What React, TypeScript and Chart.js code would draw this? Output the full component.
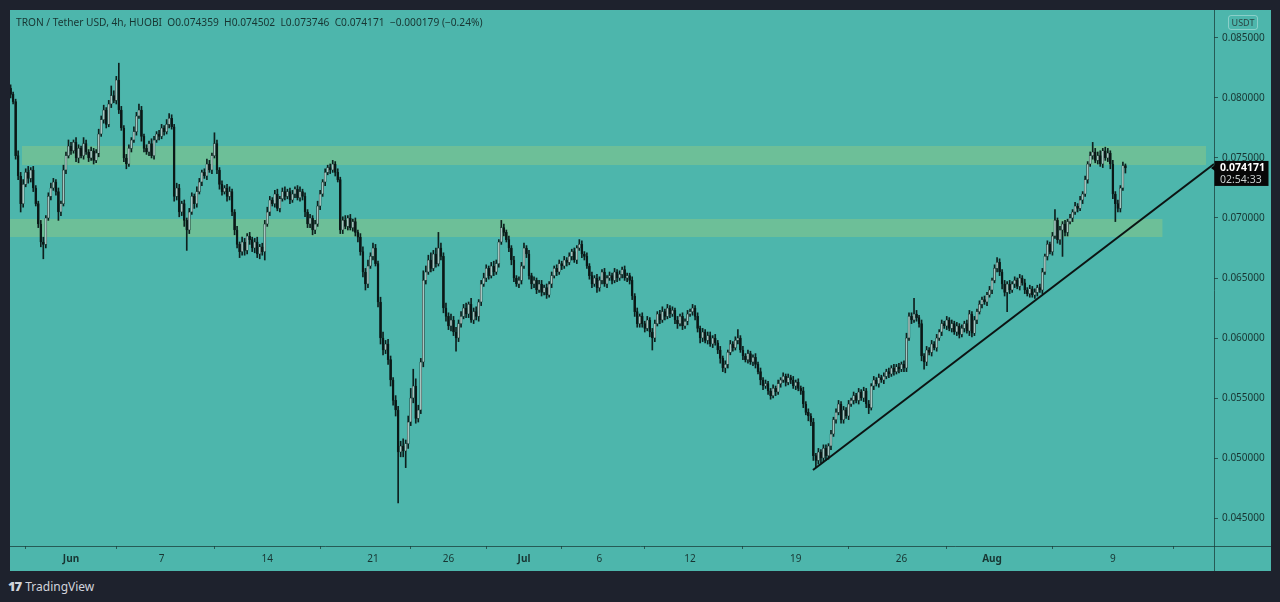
import React, { useEffect, useRef } from "react";
import { Chart, registerables } from "chart.js";

Chart.register(...registerables);

// ---- data (prices in units of 0.0001 USDT, 4h candles, time in days from Jun 1 00:00) ----
const PRICE_UNIT = 0.0001;
const START_DAY = -4; // May 28 00:00
const CANDLES_PER_DAY = 6;
const FIRST_OPEN = 808;

const CLOSES = [
  803, 797, 752, 735, 712, 728, 738, 733, 740, 725, 712, 695,
  680, 678, 700, 718, 725, 730, 722, 705, 712, 740, 752, 760,
  756, 763, 750, 758, 752, 762, 755, 750, 756, 748, 754, 770,
  782, 790, 778, 795, 802, 798, 815, 790, 775, 750, 745, 758,
  765, 772, 785, 790, 768, 758, 755, 762, 752, 765, 770, 768,
  775, 772, 778, 783, 776, 718, 725, 705, 712, 698, 690, 705,
  718, 712, 722, 730, 738, 735, 745, 740, 752, 762, 740, 728,
  722, 725, 718, 722, 705, 690, 678, 672, 680, 673, 685, 682,
  675, 680, 670, 676, 672, 695, 705, 715, 712, 720, 708, 716,
  722, 718, 722, 715, 720, 724, 717, 722, 718, 705, 695, 700,
  690, 695, 710, 720, 730, 738, 742, 740, 745, 738, 732, 690,
  698, 693, 700, 692, 697, 688, 684, 672, 655, 645, 660, 668,
  675, 662, 630, 600, 590, 595, 582, 565, 548, 540, 505, 510,
  506, 512, 530, 550, 560, 533, 540, 580, 648, 655, 665, 658,
  670, 662, 675, 668, 625, 618, 610, 615, 605, 600, 612, 618,
  625, 620, 628, 615, 622, 618, 630, 645, 650, 658, 652, 660,
  655, 662, 680, 692, 688, 682, 675, 665, 650, 645, 648, 660,
  675, 670, 652, 645, 648, 640, 645, 638, 642, 636, 645, 652,
  658, 655, 662, 660, 665, 663, 668, 672, 665, 675, 678, 670,
  668, 660, 652, 645, 650, 642, 648, 655, 645, 650, 652, 648,
  655, 650, 653, 657, 650, 652, 648, 635, 622, 612, 618, 612,
  608, 615, 605, 600, 612, 620, 615, 622, 618, 625, 620, 623,
  615, 612, 618, 610, 614, 620, 622, 625, 618, 608, 600, 605,
  598, 602, 595, 600, 596, 590, 583, 575, 578, 588, 595, 592,
  598, 600, 590, 585, 582, 587, 580, 584, 578, 572, 565, 560,
  562, 556, 552, 558, 555, 562, 565, 568, 563, 567, 565, 560,
  563, 558, 556, 545, 538, 535, 530, 502, 498, 505, 500, 508,
  502, 510, 520, 532, 538, 545, 532, 540, 535, 545, 548, 552,
  548, 555, 550, 556, 545, 542, 560, 565, 562, 567, 565, 568,
  572, 570, 575, 572, 576, 574, 578, 575, 600, 618, 615, 620,
  617, 612, 585, 580, 590, 588, 595, 592, 600, 605, 612, 610,
  615, 608, 612, 605, 610, 603, 608, 612, 606, 620, 604, 615,
  622, 628, 632, 630, 636, 640, 648, 658, 663, 655, 645, 638,
  645, 640, 645, 648, 643, 650, 646, 640, 637, 641, 636, 638,
  642, 640, 655, 668, 678, 672, 685, 698, 682, 690, 695, 688,
  697, 700, 705, 710, 708, 715, 720, 732, 745, 752, 755, 748,
  752, 745, 756, 750, 754, 745, 720, 712, 708, 725, 743.59, 741.71,
];

const UPPER_WICKS = [
  3, 2, 2, 4, 3, 4, 3, 5, 2, 3, 2, 2,
  3, 4, 2, 3, 4, 3, 2, 3, 2, 4, 3, 5,
  3, 2, 4, 3, 2, 5, 3, 2, 3, 2, 3, 4,
  3, 4, 2, 3, 8, 4, 3, 14, 3, 2, 3, 3,
  2, 4, 3, 5, 3, 2, 3, 2, 4, 3, 2, 3,
  3, 2, 4, 4, 3, 2, 4, 3, 2, 3, 2, 3,
  3, 2, 4, 3, 2, 3, 4, 3, 2, 9, 3, 2,
  3, 2, 3, 4, 2, 2, 3, 2, 4, 3, 2, 3,
  2, 3, 4, 2, 3, 3, 4, 3, 2, 3, 4, 2,
  3, 4, 2, 3, 3, 2, 3, 4, 2, 3, 2, 3,
  2, 3, 4, 3, 2, 3, 2, 3, 3, 2, 3, 2,
  3, 4, 2, 3, 2, 3, 2, 3, 4, 3, 5, 3,
  4, 3, 2, 4, 5, 3, 4, 3, 2, 4, 3, 4,
  6, 3, 5, 8, 14, 6, 4, 3, 8, 5, 4, 6,
  3, 5, 13, 4, 3, 4, 3, 5, 3, 4, 3, 4,
  3, 4, 2, 5, 3, 4, 2, 3, 4, 3, 2, 3,
  4, 3, 2, 6, 3, 2, 3, 2, 3, 2, 3, 3,
  4, 2, 3, 2, 3, 2, 3, 3, 2, 3, 2, 3,
  2, 3, 3, 2, 3, 2, 3, 2, 3, 2, 4, 3,
  2, 3, 2, 3, 2, 3, 3, 2, 3, 2, 3, 2,
  3, 2, 3, 2, 3, 2, 2, 3, 2, 3, 2, 3,
  2, 3, 2, 3, 3, 2, 3, 4, 2, 3, 2, 3,
  2, 3, 2, 3, 2, 3, 2, 3, 2, 3, 2, 3,
  2, 3, 3, 2, 3, 2, 3, 2, 3, 2, 3, 2,
  3, 7, 2, 3, 2, 3, 2, 2, 3, 2, 3, 2,
  3, 2, 2, 3, 2, 3, 2, 3, 2, 3, 2, 3,
  2, 3, 2, 3, 2, 3, 2, 3, 2, 3, 2, 3,
  3, 2, 3, 2, 3, 3, 2, 3, 2, 3, 2, 3,
  2, 3, 2, 3, 2, 3, 2, 3, 2, 3, 2, 3,
  2, 3, 2, 3, 2, 3, 2, 3, 4, 3, 3, 13,
  3, 2, 3, 2, 3, 2, 3, 2, 3, 2, 3, 2,
  3, 2, 3, 2, 3, 2, 3, 2, 3, 3, 2, 3,
  2, 3, 2, 3, 2, 3, 2, 3, 4, 3, 2, 3,
  2, 3, 2, 3, 2, 3, 2, 3, 2, 3, 2, 3,
  2, 3, 3, 2, 3, 2, 3, 9, 2, 3, 2, 3,
  2, 3, 2, 3, 2, 3, 2, 3, 2, 3, 8, 3,
  3, 4, 2, 3, 4, 2, 3, 2, 3, 2, 3, 1.43,
];

const LOWER_WICKS = [
  3, 2, 3, 3, 7, 3, 2, 4, 3, 3, 2, 3,
  4, 12, 3, 2, 3, 2, 3, 7, 3, 2, 3, 2,
  3, 2, 3, 4, 2, 3, 2, 3, 2, 3, 2, 3,
  2, 3, 3, 2, 3, 2, 3, 3, 2, 3, 4, 2,
  3, 2, 3, 2, 4, 3, 2, 3, 2, 3, 2, 3,
  2, 3, 2, 3, 2, 4, 3, 4, 3, 5, 17, 3,
  2, 4, 3, 2, 3, 2, 3, 2, 3, 2, 3, 4,
  3, 2, 4, 3, 3, 4, 3, 5, 3, 4, 3, 4,
  3, 4, 3, 4, 3, 7, 2, 3, 2, 3, 2, 3,
  2, 3, 2, 3, 2, 3, 2, 3, 3, 4, 3, 3,
  4, 3, 2, 3, 2, 3, 2, 3, 2, 3, 2, 3,
  3, 2, 3, 2, 3, 3, 4, 3, 4, 5, 3, 2,
  3, 2, 4, 5, 4, 3, 4, 5, 4, 5, 42.5, 4,
  5, 14, 4, 3, 4, 4, 3, 3, 4, 3, 2, 3,
  2, 3, 2, 3, 4, 4, 3, 4, 3, 11, 3, 3,
  2, 3, 3, 2, 3, 3, 4, 3, 2, 3, 3, 2,
  3, 2, 3, 2, 3, 2, 3, 4, 3, 2, 3, 3,
  2, 3, 3, 4, 3, 3, 2, 3, 2, 3, 2, 3,
  2, 3, 2, 3, 2, 3, 2, 3, 2, 3, 2, 3,
  3, 2, 3, 3, 2, 4, 3, 3, 2, 3, 2, 3,
  2, 3, 2, 3, 2, 3, 3, 3, 4, 3, 3, 3,
  3, 2, 4, 10, 3, 2, 3, 2, 3, 2, 3, 2,
  3, 4, 2, 3, 2, 3, 2, 3, 3, 3, 4, 3,
  2, 3, 2, 3, 2, 3, 4, 3, 4, 3, 2, 3,
  2, 3, 2, 3, 2, 3, 2, 3, 3, 2, 4, 3,
  2, 3, 3, 2, 3, 2, 3, 2, 3, 2, 3, 2,
  3, 2, 3, 3, 2, 4, 3, 4, 6, 3, 4, 3,
  4, 3, 3, 2, 3, 2, 3, 3, 2, 3, 2, 3,
  2, 3, 2, 3, 3, 5, 2, 3, 2, 3, 2, 3,
  2, 3, 2, 3, 2, 3, 2, 3, 3, 2, 3, 2,
  3, 3, 4, 6, 3, 2, 3, 2, 3, 2, 3, 2,
  3, 2, 3, 2, 3, 3, 2, 3, 2, 4, 3, 2,
  3, 2, 3, 2, 3, 2, 3, 2, 3, 3, 4, 3,
  16, 3, 2, 3, 2, 3, 2, 3, 2, 3, 2, 3,
  3, 2, 3, 2, 3, 2, 3, 2, 3, 4, 22, 3,
  3, 2, 3, 2, 3, 2, 3, 2, 3, 2, 3, 2,
  3, 2, 3, 2, 3, 4, 4, 15, 3, 3, 2, 4.25,
];

// support / resistance zones (days, price)
const ZONE_STARTS = [-3.25, -4.2];
const ZONE_ENDS = [75.17, 72.3];
const ZONE_TOPS = [0.076, 0.06992];
const ZONE_BOTTOMS = [0.07442, 0.06842];

// trend line (days, price)
const TREND_X = [49.14, 75.7];
const TREND_Y = [0.049, 0.0745];

// axes
const X_MIN = -4.04;
const X_MAX = 75.7;
const Y_MIN = 0.04267;
const Y_MAX = 0.08733;
const X_TICK_DAYS = [0, 6, 13, 20, 25, 30, 35, 41, 48, 55, 61, 69];
const X_TICK_LABELS = ["Jun", "7", "14", "21", "26", "Jul", "6", "12", "19", "26", "Aug", "9"];
const MONTH_LABELS = ["Jun", "Jul", "Aug"];
const Y_TICKS = [0.045, 0.05, 0.055, 0.06, 0.065, 0.07, 0.075, 0.08, 0.085];

const LAST_PRICE = 0.074171;
const LAST_PRICE_TEXT = "0.074171";
const COUNTDOWN_TEXT = "02:54:33";
const TITLE_TEXT =
  "TRON / Tether USD, 4h, HUOBI  O0.074359  H0.074502  L0.073746  C0.074171  \u22120.000179 (\u22120.24%)";

// ---- styles ----
const FONT = "'Noto Sans', 'Open Sans', 'DejaVu Sans', sans-serif";
const FRAME_BG = "#1e222d";
const PANEL_BG = "#4db6ac";
const ZONE_COLOR = "#6dbf98";
const TEXT_COLOR = "#183532";
const AXIS_COLOR = "rgba(25,60,58,0.75)";
const UP_BODY = "#a7c6c1";
const DOWN_BODY = "#0b1716";
const WICK_COLOR = "#0e201e";

const PANEL_W = 1261;
const PANEL_H = 561;

export default function App() {
  const canvasRef = useRef<HTMLCanvasElement | null>(null);

  useEffect(() => {
    const canvas = canvasRef.current;
    if (!canvas) return;

    const opens = CLOSES.map((c, i) => (i === 0 ? FIRST_OPEN : CLOSES[i - 1]));
    const times = CLOSES.map((_, i) => START_DAY + i / CANDLES_PER_DAY);
    const highs = CLOSES.map((c, i) => Math.max(c, opens[i]) + UPPER_WICKS[i]);
    const lows = CLOSES.map((c, i) => Math.min(c, opens[i]) - LOWER_WICKS[i]);

    const wickData = times.map((t, i) => ({ x: t, y: [lows[i] * PRICE_UNIT, highs[i] * PRICE_UNIT] }));
    const bodyData = times.map((t, i) => ({ x: t, y: [opens[i] * PRICE_UNIT, CLOSES[i] * PRICE_UNIT] }));
    const bodyColors = CLOSES.map((c, i) => (c >= opens[i] ? UP_BODY : DOWN_BODY));

    const zoneDatasets: any[] = [];
    ZONE_TOPS.forEach((top, z) => {
      zoneDatasets.push({
        type: "line",
        data: [
          { x: ZONE_STARTS[z], y: top },
          { x: ZONE_ENDS[z], y: top },
        ],
        borderWidth: 0,
        pointRadius: 0,
        fill: false,
        order: 10,
      });
      zoneDatasets.push({
        type: "line",
        data: [
          { x: ZONE_STARTS[z], y: ZONE_BOTTOMS[z] },
          { x: ZONE_ENDS[z], y: ZONE_BOTTOMS[z] },
        ],
        borderWidth: 0,
        pointRadius: 0,
        fill: "-1",
        backgroundColor: ZONE_COLOR,
        order: 10,
      });
    });

    const overlayPlugin = {
      id: "overlay",
      afterDraw(chart: any) {
        const { ctx, chartArea, scales } = chart;
        ctx.save();
        ctx.strokeStyle = AXIS_COLOR;
        ctx.lineWidth = 1;
        ctx.beginPath();
        const rx = Math.round(chartArea.right) + 0.5;
        const by = Math.round(chartArea.bottom) + 0.5;
        ctx.moveTo(rx, 0);
        ctx.lineTo(rx, chart.height);
        ctx.moveTo(0, by);
        ctx.lineTo(chart.width, by);
        ctx.stroke();

        const y = scales.y.getPixelForValue(LAST_PRICE);
        const x0 = chartArea.right;
        ctx.fillStyle = "#080808";
        ctx.fillRect(x0 + 0.5, y - 7, 54, 25);
        ctx.beginPath();
        ctx.moveTo(x0 - 3, y);
        ctx.lineTo(x0 + 1, y - 3);
        ctx.lineTo(x0 + 1, y + 3);
        ctx.closePath();
        ctx.fill();
        ctx.textBaseline = "middle";
        ctx.textAlign = "left";
        ctx.fillStyle = "#ffffff";
        ctx.font = `bold 10.5px ${FONT}`;
        ctx.fillText(LAST_PRICE_TEXT, x0 + 6, y);
        ctx.fillStyle = "#c9cfce";
        ctx.font = `10.5px ${FONT}`;
        ctx.fillText(COUNTDOWN_TEXT, x0 + 6, y + 12);
        ctx.restore();
      },
    };

    const chart = new Chart(canvas, {
      type: "bar",
      data: {
        datasets: [
          ...zoneDatasets,
          {
            type: "line",
            data: [
              { x: TREND_X[0], y: TREND_Y[0] },
              { x: TREND_X[1], y: TREND_Y[1] },
            ],
            borderColor: "#0c1413",
            borderWidth: 2,
            pointRadius: 0,
            fill: false,
            order: -1,
          },
          {
            type: "bar",
            data: wickData as any,
            backgroundColor: WICK_COLOR,
            borderWidth: 0,
            barThickness: 1,
            grouped: false,
            order: 2,
          },
          {
            type: "bar",
            data: bodyData as any,
            backgroundColor: bodyColors,
            borderColor: WICK_COLOR,
            borderWidth: 0.5,
            borderSkipped: false,
            barThickness: 2,
            minBarLength: 1,
            grouped: false,
            order: 1,
          },
        ] as any,
      },
      options: {
        animation: false,
        responsive: false,
        maintainAspectRatio: false,
        events: [],
        layout: { padding: 0, autoPadding: false } as any,
        plugins: {
          legend: { display: false },
          tooltip: { enabled: false },
          title: { display: false },
        },
        scales: {
          x: {
            type: "linear",
            min: X_MIN,
            max: X_MAX,
            offset: false,
            grid: {
              display: true,
              drawOnChartArea: false,
              drawTicks: true,
              tickLength: 3,
              color: AXIS_COLOR,
            },
            border: { display: false },
            ticks: {
              autoSkip: false,
              maxRotation: 0,
              padding: 4,
              color: TEXT_COLOR,
              font: (ctx: any) => {
                const idx = X_TICK_DAYS.indexOf(ctx.tick ? ctx.tick.value : NaN);
                const isMonth = idx >= 0 && MONTH_LABELS.includes(X_TICK_LABELS[idx]);
                return { family: FONT, size: 10, weight: isMonth ? "bold" : "normal" } as any;
              },
              callback: (value: any) => {
                const idx = X_TICK_DAYS.indexOf(Number(value));
                return idx >= 0 ? X_TICK_LABELS[idx] : "";
              },
            },
            afterBuildTicks: (scale: any) => {
              scale.ticks = X_TICK_DAYS.map((v) => ({ value: v }));
            },
            afterFit: (scale: any) => {
              scale.height = 25;
              scale.paddingLeft = 0;
              scale.paddingRight = 0;
              scale.paddingTop = 0;
              scale.paddingBottom = 0;
            },
          } as any,
          y: {
            type: "linear",
            position: "right",
            min: Y_MIN,
            max: Y_MAX,
            grid: {
              display: true,
              drawOnChartArea: false,
              drawTicks: true,
              tickLength: 4,
              color: AXIS_COLOR,
            },
            border: { display: false },
            ticks: {
              padding: 4,
              color: TEXT_COLOR,
              font: { family: FONT, size: 10 },
              callback: (value: any) => Number(value).toFixed(6),
            },
            afterBuildTicks: (scale: any) => {
              scale.ticks = Y_TICKS.map((v) => ({ value: v }));
            },
            afterFit: (scale: any) => {
              scale.width = 57;
              scale.paddingLeft = 0;
              scale.paddingRight = 0;
              scale.paddingTop = 0;
              scale.paddingBottom = 0;
            },
          } as any,
        },
      },
      plugins: [overlayPlugin],
    });

    return () => {
      chart.destroy();
    };
  }, []);

  return (
    <div
      style={{
        position: "fixed",
        left: 0,
        top: 0,
        width: 1280,
        height: 602,
        background: FRAME_BG,
        overflow: "hidden",
        fontFamily: FONT,
      }}
    >
      <div
        style={{
          position: "absolute",
          left: 10,
          top: 10,
          width: PANEL_W,
          height: PANEL_H,
          background: PANEL_BG,
        }}
      >
        <canvas
          ref={canvasRef}
          width={PANEL_W}
          height={PANEL_H}
          style={{ display: "block", width: PANEL_W, height: PANEL_H }}
        />
        <div
          style={{
            position: "absolute",
            left: 6,
            top: 5,
            fontSize: 10.2,
            color: TEXT_COLOR,
            whiteSpace: "pre",
            lineHeight: "14px",
          }}
        >
          {TITLE_TEXT}
        </div>
        <div
          style={{
            position: "absolute",
            left: 1218,
            top: 5,
            width: 28,
            height: 13,
            border: "1px solid rgba(255,255,255,0.35)",
            borderRadius: 3,
            fontSize: 9,
            lineHeight: "13px",
            textAlign: "center",
            color: "#2a4543",
          }}
        >
          USDT
        </div>
      </div>
      <div
        style={{
          position: "absolute",
          left: 8,
          top: 578,
          height: 16,
          display: "flex",
          alignItems: "center",
          color: "#d1d4dc",
        }}
      >
        <span style={{ fontWeight: 900, fontSize: 13, letterSpacing: -1, marginRight: 4 }}>17</span>
        <span style={{ fontSize: 12 }}>TradingView</span>
      </div>
    </div>
  );
}
